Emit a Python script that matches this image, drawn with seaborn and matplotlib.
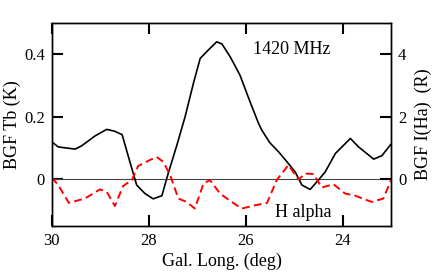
import matplotlib
matplotlib.use("Agg")
import matplotlib.pyplot as plt
import pandas as pd
import seaborn as sns

# BGF Tb at 1420 MHz (K)
lon_tb = [30.0, 29.87, 29.52, 29.39, 29.11, 28.87, 28.70, 28.55, 28.39, 28.25, 28.08,
          27.91, 27.73, 27.60, 27.42, 27.25, 27.08, 26.94, 26.77, 26.60, 26.49, 26.32,
          26.12, 25.91, 25.74, 25.67, 25.50, 25.32, 25.12, 24.98, 24.84, 24.67, 24.50,
          24.36, 24.15, 23.84, 23.67, 23.36, 23.19, 23.0]
tb = [0.119, 0.103, 0.096, 0.106, 0.138, 0.159, 0.153, 0.142, 0.055, -0.019, -0.046,
      -0.063, -0.053, 0.018, 0.109, 0.200, 0.306, 0.386, 0.413, 0.439, 0.432, 0.391,
      0.333, 0.247, 0.180, 0.157, 0.116, 0.087, 0.050, 0.023, -0.019, -0.033, -0.003,
      0.023, 0.082, 0.130, 0.103, 0.064, 0.075, 0.112]

# BGF H alpha intensity (R)
lon_ha = [30.0, 29.87, 29.65, 29.32, 29.01, 28.87, 28.70, 28.53, 28.35, 28.22, 27.98,
          27.84, 27.70, 27.56, 27.39, 27.22, 27.05, 26.87, 26.74, 26.53, 26.29, 26.08,
          25.79, 25.56, 25.36, 25.12, 24.91, 24.77, 24.60, 24.43, 24.19, 23.95, 23.74,
          23.40, 23.16, 23.0]
ha = [0.05, -0.19, -0.76, -0.62, -0.33, -0.40, -0.86, -0.22, -0.03, 0.42, 0.61,
      0.71, 0.55, 0.13, -0.62, -0.73, -0.94, -0.14, -0.03, -0.46, -0.73, -0.94,
      -0.83, -0.76, -0.03, 0.45, -0.01, 0.18, 0.16, -0.27, -0.16, -0.46, -0.53,
      -0.73, -0.62, -0.03]

df_tb = pd.DataFrame({"lon": lon_tb, "tb": tb})
df_ha = pd.DataFrame({"lon": lon_ha, "ha": ha})

sns.set_style("ticks")
plt.rcParams["font.family"] = ["Liberation Serif", "DejaVu Serif"]
for k in ["text.color", "axes.labelcolor", "xtick.color", "ytick.color", "axes.edgecolor"]:
    plt.rcParams[k] = "black"

fig = plt.figure(figsize=(4.36, 2.74), dpi=100)
ax = fig.add_axes([0.119, 0.175, 0.778, 0.742])
ax2 = ax.twinx()

ax.axhline(0, color="#444444", lw=0.8, zorder=1)
sns.lineplot(data=df_tb, x="lon", y="tb", ax=ax, color="black", lw=1.2,
             sort=False, estimator=None)
sns.lineplot(data=df_ha, x="lon", y="ha", ax=ax2, color="red", lw=1.4,
             sort=False, estimator=None, linestyle=(0, (4, 2.2)))

ax.set_xlim(30, 23)
ax.set_ylim(-0.15, 0.5)
ax2.set_ylim(-1.5, 5)

ax.set_xticks([30, 28, 26, 24])
ax.set_xticklabels(["30", "28", "26", "24"])
ax.set_yticks([0, 0.2, 0.4])
ax.set_yticklabels(["0", "0.2", "0.4"])
ax2.set_yticks([0, 2, 4])
ax2.set_yticklabels(["0", "2", "4"])

ax.tick_params(axis="both", direction="in", length=8, width=1.5, labelsize=12,
               top=True, bottom=True, left=True, pad=5, color="black")
ax.tick_params(axis="y", right=False)
ax2.tick_params(axis="y", direction="in", length=8, width=1.5, labelsize=12, pad=5,
                right=True, color="black")

ax.set_xlabel("Gal. Long. (deg)", fontsize=13, labelpad=3)
ax.set_ylabel("BGF Tb (K)", fontsize=13, labelpad=2)
ax2.set_ylabel("BGF I(Ha)  (R)", fontsize=13, labelpad=6)

ax.text(25.04, 0.413, "1420 MHz", fontsize=13, ha="center", va="center")
ax.text(24.81, -0.108, "H alpha", fontsize=13, ha="center", va="center")

for s in ax.spines.values():
    s.set_linewidth(1.0)
    s.set_color("black")
for s in ax2.spines.values():
    s.set_linewidth(1.0)
    s.set_color("black")

fig.savefig("out.png", dpi=100)
